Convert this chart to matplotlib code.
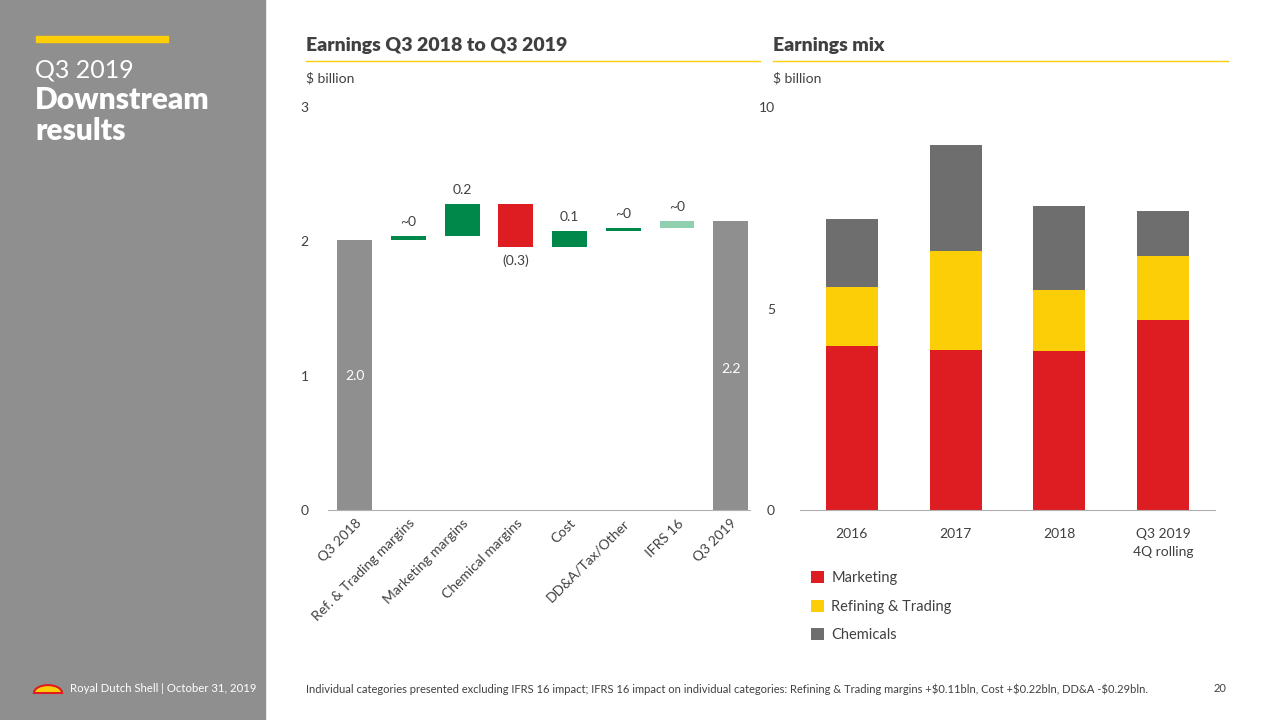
import numpy as np
import matplotlib.pyplot as plt
from matplotlib.patches import Rectangle, Wedge

plt.rcParams['font.family'] = ['Lato', 'DejaVu Sans']

# waterfall data ($ billion)
wf_labels = ['Q3 2018', 'Ref. & Trading margins', 'Marketing margins', 'Chemical margins',
             'Cost', 'DD&A/Tax/Other', 'IFRS 16', 'Q3 2019']
start_val = 2.01
deltas = [0.03, 0.24, -0.32, 0.12, 0.02, 0.05]
delta_text = ['~0', '0.2', '(0.3)', '0.1', '~0', '~0']
delta_colors = ['#00874a', '#00874a', '#dd1d21', '#00874a', '#00874a', '#8fd0b0']
end_text = ['2.0', '2.2']

# earnings mix data ($ billion)
mix_cats = ['2016', '2017', '2018', 'Q3 2019\n4Q rolling']
marketing = [4.07, 3.97, 3.95, 4.71]
refining = [1.46, 2.46, 1.51, 1.59]
chemicals = [1.69, 2.63, 2.08, 1.12]
mix_names = ['Marketing', 'Refining & Trading', 'Chemicals']
mix_colors = ['#dd1d21', '#fbce07', '#6e6e6e']

W, H = 1280, 720
fig = plt.figure(figsize=(12.8, 7.2), dpi=100)

def fx(px):
    return px / W

def fy(py):
    return 1 - py / H

txt = '#404040'
panel = '#8f8f8f'

# left grey panel
fig.patches.append(Rectangle((0, 0), fx(265), 1, transform=fig.transFigure, color=panel, zorder=0))
fig.patches.append(Rectangle((fx(36), fy(42)), fx(132), 6 / H, transform=fig.transFigure,
                             color='#fbce07', zorder=1))
fig.text(fx(35), fy(70), 'Q3 2019', color='white', fontsize=18, va='center')
fig.text(fx(35), fy(100), 'Downstream', color='white', fontsize=21.5, fontweight='heavy', va='center')
fig.text(fx(35), fy(131), 'results', color='white', fontsize=21.5, fontweight='heavy', va='center')

# headers
for x0, x1, title in [(306, 760, 'Earnings Q3 2018 to Q3 2019'), (773, 1228, 'Earnings mix')]:
    fig.text(fx(x0), fy(45), title, color=txt, fontsize=14, fontweight='heavy', va='center')
    fig.add_artist(plt.Line2D([fx(x0), fx(x1)], [fy(61), fy(61)], color='#fbce07', lw=1))
    fig.text(fx(x0), fy(78), '$ billion', color=txt, fontsize=10, va='center')

# waterfall chart
ax1 = fig.add_axes([fx(328), fy(510), fx(750) - fx(328), fy(107) - fy(510)])
x = np.arange(len(wf_labels))
levels = np.concatenate([[start_val], start_val + np.cumsum(deltas)])
end_val = levels[-1]
ax1.bar(x[0], start_val, width=0.65, color='#8f8f8f')
ax1.bar(x[-1], end_val, width=0.65, color='#8f8f8f')
ax1.text(x[0], 1.0, end_text[0], ha='center', va='center', color='white', fontsize=10)
ax1.text(x[-1], 1.05, end_text[1], ha='center', va='center', color='white', fontsize=10)
for i, d in enumerate(deltas):
    lo = min(levels[i], levels[i + 1])
    ax1.bar(x[i + 1], abs(d), bottom=lo, width=0.65, color=delta_colors[i])
    if d >= 0:
        ax1.text(x[i + 1], lo + abs(d) + 0.06, delta_text[i], ha='center', va='bottom', color=txt, fontsize=10)
    else:
        ax1.text(x[i + 1], lo - 0.06, delta_text[i], ha='center', va='top', color=txt, fontsize=10)
ax1.set_xlim(-0.5, 7.36)
ax1.set_ylim(0, 3)
ax1.set_yticks([0, 1, 2, 3])
ax1.set_xticks(x)
ax1.set_xticklabels(wf_labels, rotation=45, ha='right', rotation_mode='anchor')
ax1.tick_params(length=0, labelsize=10, labelcolor=txt)
ax1.tick_params(axis='y', pad=14)
ax1.tick_params(axis='x', pad=5)
for s in ['top', 'right', 'left']:
    ax1.spines[s].set_visible(False)
ax1.spines['bottom'].set_color('#b0b0b0')
ax1.patch.set_alpha(0)

# earnings mix chart
ax2 = fig.add_axes([fx(800), fy(510), fx(1215) - fx(800), fy(107) - fy(510)])
xm = np.arange(len(mix_cats))
bottom = np.zeros(len(mix_cats))
for vals, name, col in zip([marketing, refining, chemicals], mix_names, mix_colors):
    ax2.bar(xm, vals, bottom=bottom, width=0.5, color=col, label=name)
    bottom += np.array(vals)
ax2.set_xlim(-0.5, 3.5)
ax2.set_ylim(0, 10)
ax2.set_yticks([0, 5, 10])
ax2.set_xticks(xm)
ax2.set_xticklabels(mix_cats, linespacing=1.55)
ax2.tick_params(length=0, labelsize=10, labelcolor=txt)
ax2.tick_params(axis='y', pad=18)
ax2.tick_params(axis='x', pad=13)
for s in ['top', 'right', 'left']:
    ax2.spines[s].set_visible(False)
ax2.spines['bottom'].set_color('#b0b0b0')
ax2.patch.set_alpha(0)
ax2.legend(loc='upper left', bbox_to_anchor=(fx(805), fy(565)), bbox_transform=fig.transFigure,
           frameon=False, fontsize=10.5, labelcolor=txt, handlelength=0.9, handleheight=0.9,
           handletextpad=0.5, labelspacing=1.0, borderaxespad=0)

# footer
fig.patches.append(Wedge((fx(48), fy(693)), 0.011, 0, 180, transform=fig.transFigure,
                         facecolor='#fbce07', edgecolor='#dd1d21', lw=1.5))
fig.text(fx(70), fy(689), 'Royal Dutch Shell | October 31, 2019', color='white', fontsize=8.2, va='center')
fig.text(fx(306), fy(689), 'Individual categories presented excluding IFRS 16 impact; IFRS 16 impact on individual '
         'categories: Refining & Trading margins +$0.11bln, Cost +$0.22bln, DD&A -$0.29bln.',
         color=txt, fontsize=8, va='center')
fig.text(fx(1220), fy(689), '20', color=txt, fontsize=8, va='center', ha='center')

fig.savefig('out.png', dpi=100)
